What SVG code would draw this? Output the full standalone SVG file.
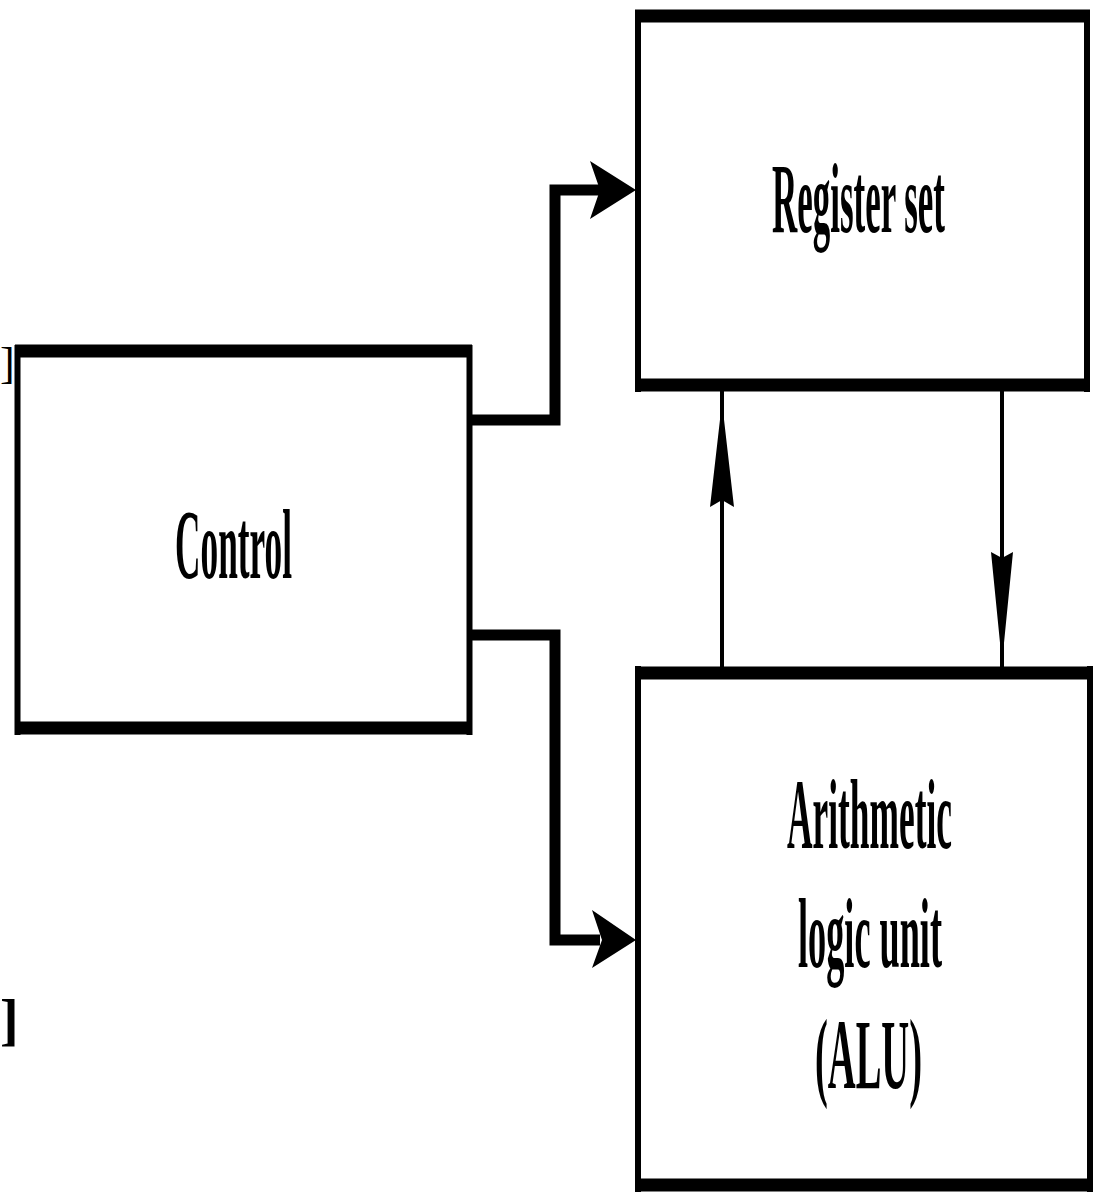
<svg xmlns="http://www.w3.org/2000/svg" width="1097" height="1196" viewBox="0 0 1097 1196">
<style>
.side{stroke:#000;stroke-width:6;fill:none}
.edge{stroke:#000;stroke-width:13;fill:none}
.lbl{font-family:"Liberation Serif","Times New Roman",serif;font-size:100px;font-weight:bold;fill:#000}
.frag{font-family:"Liberation Serif","Times New Roman",serif;fill:#000}
.wire{stroke:#000;fill:none;stroke-linejoin:miter}
.head{fill:#000}
</style>
<rect width="1097" height="1196" fill="#fff"/>
<text class="frag" x="0" y="378" font-size="44">]</text>
<text class="frag" x="0" y="1039" font-size="56" font-weight="bold">]</text>
<g id="register-set">
<path class="side" d="M638 10V392M1087 10V392"/>
<path class="edge" d="M635 16H1090M635 385H1090"/>
<text class="lbl" x="772" y="232" textLength="173" lengthAdjust="spacingAndGlyphs">Register set</text>
</g>
<g id="control">
<path class="side" d="M17.5 345V735M469.5 345V735"/>
<path class="edge" d="M15 351H472M15 728H472"/>
<text class="lbl" x="175" y="578" textLength="117" lengthAdjust="spacingAndGlyphs">Control</text>
</g>
<g id="alu">
<path class="side" d="M638 666V1192M1090 666V1192"/>
<path class="edge" d="M635 673H1093M635 1185H1093"/>
<text class="lbl" x="787" y="848" textLength="165" lengthAdjust="spacingAndGlyphs">Arithmetic</text>
<text class="lbl" x="798" y="967" textLength="144" lengthAdjust="spacingAndGlyphs">logic unit</text>
<text class="lbl" x="815" y="1088" textLength="107" lengthAdjust="spacingAndGlyphs">(ALU)</text>
</g>
<g id="connectors">
<path class="wire" stroke-width="11" d="M470 420H555V190H600"/>
<polygon class="head" points="590,161 636,190 590,219 600,190"/>
<path class="wire" stroke-width="11" d="M470 635H555V940H600"/>
<polygon class="head" points="592,910 636,940 592,968 602,940"/>
<path class="wire" stroke-width="4" d="M722 667V390"/>
<polygon class="head" points="722,402 734,507 722,500 710,507"/>
<path class="wire" stroke-width="4" d="M1002 390V667"/>
<polygon class="head" points="991,552 1002,558 1013,552 1002,663"/>
</g>
</svg>
